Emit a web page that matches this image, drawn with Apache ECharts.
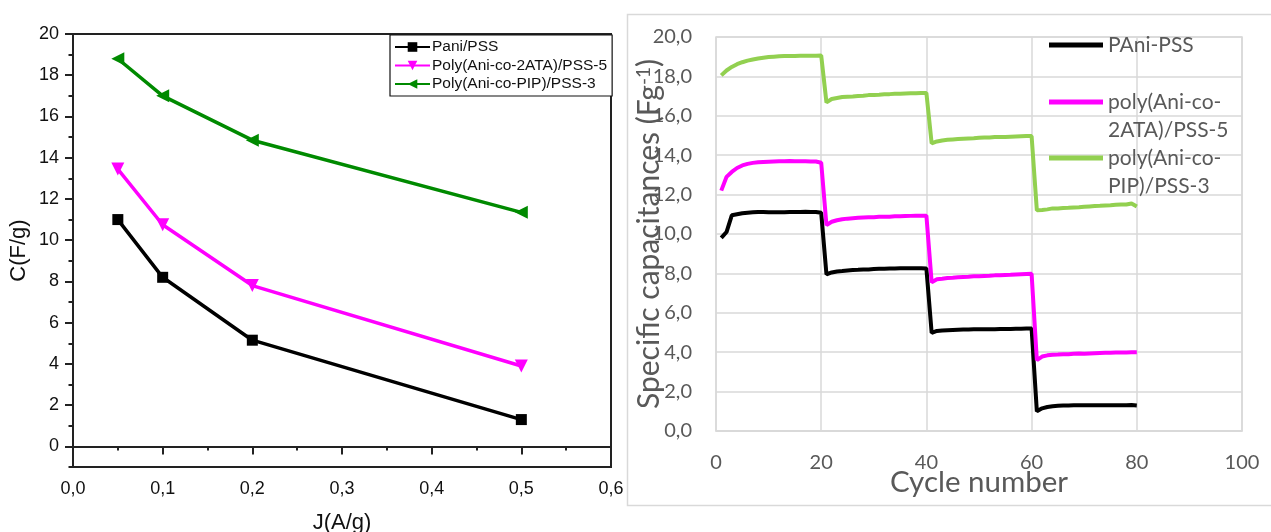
<!DOCTYPE html>
<html>
<head>
<meta charset="utf-8">
<script src="https://cdn.jsdelivr.net/npm/echarts@6/dist/echarts.min.js"></script>
<style>
html,body{margin:0;padding:0;background:#fff;}
#chart{width:1271px;height:532px;}
</style>
</head>
<body>
<div id="chart"></div>
<script>
// ---- Left chart: C vs J ----
var currentDensity = [0.05, 0.1, 0.2, 0.5];
var leftNames = ['Pani/PSS', 'Poly(Ani-co-2ATA)/PSS-5', 'Poly(Ani-co-PIP)/PSS-3'];
var cPani = [11.0, 8.2, 5.15, 1.3];
var cAta = [13.45, 10.75, 7.8, 3.9];
var cPip = [18.8, 17.0, 14.85, 11.35];
var leftXTicks = [0, 0.1, 0.2, 0.3, 0.4, 0.5, 0.6];
var leftYTicks = [0, 2, 4, 6, 8, 10, 12, 14, 16, 18, 20];

// ---- Right chart: capacitance vs cycle number ----
var rightNames = ['PAni-PSS', 'poly(Ani-co-2ATA)/PSS-5', 'poly(Ani-co-PIP)/PSS-3'];
var rightLegendLines = [['PAni-PSS'], ['poly(Ani-co-', '2ATA)/PSS-5'], ['poly(Ani-co-', 'PIP)/PSS-3']];
var capPani = [
  9.8, 10.1, 10.95, 11.0, 11.05, 11.08, 11.1, 11.12, 11.12, 11.1, 11.1, 11.1, 11.1, 11.12, 11.12, 11.12, 11.13, 11.12, 11.12, 11.08,
  7.95, 8.05, 8.1, 8.12, 8.15, 8.17, 8.18, 8.2, 8.2, 8.22, 8.23, 8.24, 8.25, 8.25, 8.26, 8.26, 8.26, 8.26, 8.26, 8.25,
  4.98, 5.08, 5.1, 5.12, 5.13, 5.14, 5.15, 5.15, 5.16, 5.16, 5.17, 5.17, 5.17, 5.18, 5.18, 5.18, 5.19, 5.19, 5.2, 5.2,
  1.0, 1.15, 1.22, 1.26, 1.28, 1.3, 1.3, 1.31, 1.31, 1.31, 1.31, 1.31, 1.31, 1.31, 1.31, 1.31, 1.31, 1.31, 1.32, 1.3
];
var capAta = [
  12.2, 12.9, 13.15, 13.35, 13.48, 13.56, 13.61, 13.64, 13.66, 13.67, 13.68, 13.69, 13.69, 13.7, 13.69, 13.69, 13.69, 13.68, 13.68, 13.62,
  10.45, 10.62, 10.7, 10.75, 10.78, 10.8, 10.82, 10.84, 10.85, 10.85, 10.87, 10.88, 10.88, 10.9, 10.9, 10.91, 10.92, 10.93, 10.93, 10.93,
  7.55, 7.7, 7.73, 7.77, 7.78, 7.8, 7.82, 7.83, 7.85, 7.86, 7.87, 7.88, 7.9, 7.91, 7.92, 7.93, 7.95, 7.96, 7.97, 7.98,
  3.6, 3.78, 3.84, 3.87, 3.88, 3.9, 3.9, 3.92, 3.93, 3.92, 3.94, 3.95, 3.96, 3.97, 3.97, 3.98, 3.98, 3.99, 4.0, 4.0
];
var capPip = [
  18.05, 18.3, 18.48, 18.62, 18.72, 18.8, 18.86, 18.91, 18.95, 18.98, 19.0, 19.02, 19.03, 19.04, 19.04, 19.05, 19.05, 19.05, 19.05, 19.06,
  16.68, 16.85, 16.9, 16.95, 16.97, 16.98, 17.0, 17.02, 17.05, 17.06, 17.07, 17.09, 17.1, 17.12, 17.12, 17.13, 17.14, 17.15, 17.16, 17.16,
  14.6, 14.7, 14.75, 14.78, 14.8, 14.82, 14.84, 14.85, 14.86, 14.88, 14.9, 14.9, 14.92, 14.92, 14.93, 14.94, 14.95, 14.96, 14.97, 14.97,
  11.2, 11.22, 11.25, 11.3, 11.3, 11.32, 11.33, 11.35, 11.36, 11.38, 11.4, 11.42, 11.43, 11.45, 11.46, 11.48, 11.5, 11.5, 11.55, 11.4
];
var rightXTicks = [0, 20, 40, 60, 80, 100];
var rightYTicks = [0, 2, 4, 6, 8, 10, 12, 14, 16, 18, 20];

function pairsX(xs, ys) { return ys.map(function (v, i) { return [xs[i], v]; }); }
function pairsCycle(ys) { return ys.map(function (v, i) { return [i + 1, v]; }); }
function comma(v, d) { return v.toFixed(d).replace('.', ','); }

var chart = echarts.init(document.getElementById('chart'), null, { renderer: 'canvas' });
var AR = 'Liberation Sans, Arial, sans-serif';
var LT = 'Lato, sans-serif';
var gray = '#595959';
var grid = '#d9d9d9';

function rightLegend(idx, top) {
  var lines = rightLegendLines[idx];
  return {
    data: [rightNames[idx]], left: 1049, top: top, padding: 0,
    icon: 'rect', itemWidth: 54, itemHeight: 5, itemGap: 0,
    formatter: function () { return lines.length > 1 ? ' \n' + lines.join('\n') : lines[0]; },
    textStyle: { fontFamily: LT, fontSize: 21, color: gray, lineHeight: 28 }
  };
}

var option = {
  animation: false,
  backgroundColor: '#fff',
  graphic: [{
    type: 'rect', left: 625, top: 12, shape: { width: 660, height: 491 },
    style: { fill: 'none', stroke: '#d9d9d9', lineWidth: 1.5 }, silent: true, z: -1
  }],
  grid: [
    { left: 73, right: 660, top: 34, bottom: 65, show: true, borderColor: '#222', borderWidth: 2, backgroundColor: 'transparent', outerBoundsMode: 'none' },
    { left: 716, right: 29, top: 37, bottom: 101, show: true, borderColor: grid, borderWidth: 1.5, backgroundColor: 'transparent', outerBoundsMode: 'none' }
  ],
  xAxis: [
    {
      gridIndex: 0, type: 'value', min: leftXTicks[0], max: leftXTicks[leftXTicks.length - 1], interval: 0.1,
      name: 'J(A/g)', nameLocation: 'middle', nameGap: 45, nameMoveOverlap: false,
      nameTextStyle: { fontFamily: AR, fontSize: 22, color: '#111' },
      axisLine: { lineStyle: { color: '#222', width: 2 } },
      axisTick: { length: 8, lineStyle: { color: '#222', width: 2 } },
      minorTick: { show: true, splitNumber: 2, length: 4, lineStyle: { color: '#222', width: 2 } },
      axisLabel: { fontFamily: AR, fontSize: 18, color: '#111', margin: 13, formatter: function (v) { return comma(v, 1); } },
      splitLine: { show: false }
    },
    {
      gridIndex: 1, type: 'value', min: rightXTicks[0], max: rightXTicks[rightXTicks.length - 1], interval: 20,
      name: 'Cycle number', nameLocation: 'middle', nameGap: 36, nameMoveOverlap: false,
      nameTextStyle: { fontFamily: LT, fontSize: 29.5, color: gray },
      axisLine: { lineStyle: { color: grid, width: 1.5 } },
      axisTick: { show: false },
      axisLabel: { fontFamily: LT, fontSize: 20, color: gray, margin: 22 },
      splitLine: { show: true, lineStyle: { color: grid, width: 1.5 } }
    }
  ],
  yAxis: [
    {
      gridIndex: 0, type: 'value', min: -1, max: 20, interval: 1,
      name: 'C(F/g)', nameLocation: 'middle', nameGap: 43, nameMoveOverlap: false,
      nameTextStyle: { fontFamily: AR, fontSize: 22, color: '#111' },
      axisLine: { lineStyle: { color: '#222', width: 2 } },
      axisTick: { length: 4.5, lineStyle: { color: '#222', width: 2 } },
      axisLabel: {
        fontFamily: AR, fontSize: 18, color: '#111', margin: 14,
        formatter: function (v) { return (leftYTicks.indexOf(v) >= 0) ? String(v) : ''; }
      },
      splitLine: { show: false }
    },
    {
      gridIndex: 1, type: 'value', min: rightYTicks[0], max: rightYTicks[rightYTicks.length - 1], interval: 2,
      name: 'Specific capacitances (Fg{sup|-1})', nameLocation: 'middle', nameGap: 52, nameMoveOverlap: false,
      nameTextStyle: { fontFamily: LT, fontSize: 30, color: gray, rich: { sup: { fontFamily: LT, fontSize: 19, color: gray, verticalAlign: 'top' } } },
      axisLine: { show: false },
      axisTick: { show: false },
      axisLabel: { fontFamily: LT, fontSize: 20, color: gray, margin: 24, formatter: function (v) { return comma(v, 1); } },
      splitLine: { show: true, lineStyle: { color: grid, width: 1.5 } }
    },
    {
      gridIndex: 0, type: 'value', min: -1, max: 20, position: 'left',
      axisLine: { show: false },
      axisTick: { show: true, length: 8, customValues: leftYTicks, lineStyle: { color: '#222', width: 2 } },
      axisLabel: { show: false },
      splitLine: { show: false }
    }
  ],
  legend: [
    {
      data: leftNames, orient: 'vertical', left: 390, top: 35, width: 220,
      backgroundColor: '#fff', borderColor: '#111', borderWidth: 1.2, padding: [4, 5, 4, 4],
      itemWidth: 35, itemHeight: 12, itemGap: 2.5,
      textStyle: { fontFamily: AR, fontSize: 15.5, color: '#111', padding: [0, 0, 0, -3] }
    },
    rightLegend(0, 31),
    rightLegend(1, 60),
    rightLegend(2, 116)
  ],
  series: [
    {
      name: leftNames[0], type: 'line', xAxisIndex: 0, yAxisIndex: 0, data: pairsX(currentDensity, cPani),
      symbol: 'rect', symbolSize: 11, lineStyle: { color: '#000', width: 3.5 }, itemStyle: { color: '#000' }
    },
    {
      name: leftNames[1], type: 'line', xAxisIndex: 0, yAxisIndex: 0, data: pairsX(currentDensity, cAta),
      symbol: 'triangle', symbolRotate: 180, symbolSize: 13, lineStyle: { color: '#ff00ff', width: 3.5 }, itemStyle: { color: '#ff00ff' }
    },
    {
      name: leftNames[2], type: 'line', xAxisIndex: 0, yAxisIndex: 0, data: pairsX(currentDensity, cPip),
      symbol: 'triangle', symbolRotate: 90, symbolSize: 13, lineStyle: { color: '#008a00', width: 3.5 }, itemStyle: { color: '#008a00' }
    },
    {
      name: rightNames[0], type: 'line', xAxisIndex: 1, yAxisIndex: 1, data: pairsCycle(capPani),
      symbol: 'none', lineStyle: { color: '#000', width: 4 }, itemStyle: { color: '#000' }
    },
    {
      name: rightNames[1], type: 'line', xAxisIndex: 1, yAxisIndex: 1, data: pairsCycle(capAta),
      symbol: 'none', lineStyle: { color: '#ff00ff', width: 4 }, itemStyle: { color: '#ff00ff' }
    },
    {
      name: rightNames[2], type: 'line', xAxisIndex: 1, yAxisIndex: 1, data: pairsCycle(capPip),
      symbol: 'none', lineStyle: { color: '#92d050', width: 4 }, itemStyle: { color: '#92d050' }
    }
  ]
};
chart.setOption(option);
</script>
</body>
</html>
